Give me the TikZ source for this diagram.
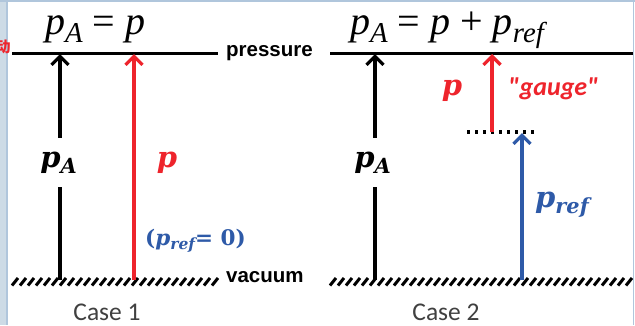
\documentclass[tikz,border=0pt]{standalone}
\usepackage{fontspec}
\setmainfont{Liberation Serif}
\newfontfamily\labfont{DejaVu Serif}
\newfontfamily\sansbold{Liberation Sans}
\newfontfamily\casefont{Carlito}
\newfontfamily\cjkfont{Noto Sans CJK SC}
\usetikzlibrary{arrows.meta}
\definecolor{myred}{RGB}{238,36,44}
\definecolor{myblue}{RGB}{46,90,168}
\definecolor{framebg}{RGB}{205,219,230}
\definecolor{frameln}{RGB}{176,198,220}
\definecolor{casegray}{RGB}{64,64,64}
\newcommand{\subsc}[1]{\raisebox{-0.22em}{\scalebox{0.72}{#1}}}
\begin{document}
\begin{tikzpicture}[x=1pt,y=-1pt,
  levelline/.style={line width=3pt},
  arr/.style={line width=3.4pt,-{Straight Barb[length=8.5pt,width=17pt,line width=3.2pt]}},
  plainline/.style={line width=3.4pt},
  hatch/.style={line width=3pt},
  formula/.style={anchor=base west,inner sep=0pt,font=\fontsize{40}{44}\selectfont},
  labelb/.style={font=\labfont\bfseries\itshape\fontsize{29}{32}\selectfont,inner sep=0pt},
  gaplbl/.style={labelb,minimum height=49pt},
  sidelbl/.style={font=\sansbold\bfseries\fontsize{20.5}{22}\selectfont,anchor=base west,inner sep=0pt},
  casetxt/.style={font=\casefont\fontsize{25.5}{28}\selectfont,text=casegray,anchor=base,inner sep=0pt},
  dotline/.style={line width=3.2pt,dash pattern=on 3.2pt off 4.8pt}
]
\useasboundingbox (0,0) rectangle (635,325);
\fill[white] (0,0) rectangle (635,325);
% frame
\fill[framebg] (0,0) rectangle (7,325);
\draw[frameln,line width=1.2pt] (7,0) -- (7,325);
\draw[frameln,line width=1.5pt] (0,1) -- (635,1);
\draw[frameln,line width=1.5pt] (633.5,0) -- (633.5,325);
\begin{scope}
\clip (0,36) rectangle (12.5,60);
\node[text=myred,font=\cjkfont\bfseries\fontsize{15}{15}\selectfont,inner sep=0pt] (glyph) at (3,47) {动};
\end{scope}

% ---------- Case 1 ----------
\coordinate (pl1L) at (12,53);
\coordinate (pl1R) at (218,53);
\coordinate (top1a) at (60,54);
\coordinate (bot1a) at (60,280);
\coordinate (top1b) at (134,54);
\coordinate (bot1b) at (134,280);
\draw[levelline] (pl1L) -- (pl1R);
\node[sidelbl] (press1) at (226,56) {pressure};
\node[sidelbl] (vac1) at (226,282) {vacuum};
\foreach \x in {12,20,...,212} \draw[hatch] (\x,285.5) -- ++(6,-7.5);
\node[formula] (f1) at (45,34) {\itshape p\subsc{A}\upshape{ = }\itshape p};
\node[gaplbl] (pA1) at (58.5,162.5) {p\subsc{A}};
\draw[plainline] (bot1a) -- (bot1a |- pA1.south);
\draw[arr] (top1a |- pA1.north) -- (top1a);
\draw[arr,myred] (bot1b) -- (top1b);
\node[labelb,text=myred,anchor=base] (p1) at (167,167) {p};
\node[font=\labfont\bfseries\fontsize{21.5}{24}\selectfont,text=myblue,anchor=base west,inner sep=0pt] (pref0) at (145,245) {(\textit{p\subsc{ref}}= 0)};
\node[casetxt] (case1) at (107,320) {Case 1};

% ---------- Case 2 ----------
\coordinate (pl2L) at (330,53);
\coordinate (pl2R) at (633,53);
\coordinate (top2a) at (375,54);
\coordinate (bot2a) at (375,280);
\coordinate (top2b) at (492,54);
\coordinate (mid2b) at (492,132);
\coordinate (dotL) at (467,132);
\coordinate (dotR) at (537,132);
\coordinate (top2c) at (522,133);
\coordinate (bot2c) at (522,280);
\draw[levelline] (pl2L) -- (pl2R);
\foreach \x in {330,338,...,626} \draw[hatch] (\x,285.5) -- ++(6,-7.5);
\node[formula] (f2) at (350,34) {\itshape p\subsc{A}\upshape{ = }\itshape p\upshape{ + }\itshape p\subsc{ref}};
\node[gaplbl] (pA2) at (372.5,162.5) {p\subsc{A}};
\draw[plainline] (bot2a) -- (bot2a |- pA2.south);
\draw[arr] (top2a |- pA2.north) -- (top2a);
\draw[dotline] (dotL) -- (dotR);
\draw[arr,myred] (mid2b) -- (top2b);
\draw[arr,myblue] (bot2c) -- (top2c);
\node[labelb,text=myred,anchor=base] (p2) at (452,95) {p};
\node[font=\casefont\bfseries\itshape\fontsize{26}{28}\selectfont,text=myred,anchor=base west,inner sep=0pt] (gauge) at (508,95) {"gauge"};
\node[labelb,text=myblue,anchor=base west] (pref) at (535,207) {p\subsc{ref}};
\node[casetxt] (case2) at (446,320) {Case 2};
\end{tikzpicture}
\end{document}
